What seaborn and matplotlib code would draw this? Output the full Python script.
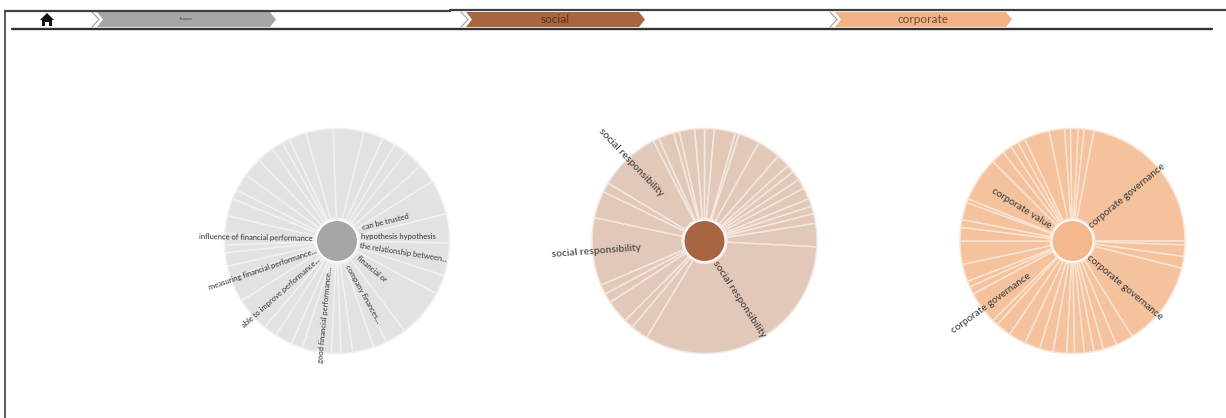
import matplotlib
matplotlib.use('Agg')
import matplotlib.pyplot as plt
import seaborn as sns

sns.set_theme(style='white')
plt.rcParams['font.family'] = ['Lato', 'DejaVu Sans']

W, H = 1226, 418

# Slice sizes, clockwise (degrees)
finance_sizes = [16, 10, 7, 7, 10, 10, 18, 15, 9, 8, 10, 25, 11, 7, 11, 6, 5, 7, 8, 6,
                 9, 7, 8, 10, 13, 6, 7, 4, 6, 9, 9, 5, 9, 10, 9, 6, 4, 9, 14]
social_sizes = [5, 11, 2, 11, 12, 7, 4, 5, 5, 6, 4, 4, 5, 12, 118, 9, 5, 12, 5, 5,
                35, 14, 5, 32, 3, 8, 3, 8, 5]
corporate_sizes = [79, 2, 6, 6, 44, 9, 7, 5, 5, 5, 4, 7, 7, 8, 9, 8, 3, 17, 4, 3, 9,
                   12, 7, 4, 9, 2, 23, 7, 5, 4, 4, 13, 8, 3, 4, 3, 5]

crumb_labels = ['finance', 'social', 'corporate']

finance_labels = ['influence of financial performance', 'can be trusted', 'hypothesis hypothesis',
                  'the relationship between...', 'financial or', 'company finances...',
                  'good financial performance...', 'able to improve performance...',
                  'measuring financial performance...']
social_labels = ['social responsibility', 'social responsibility', 'social responsibility']
corporate_labels = ['corporate governance', 'corporate value', 'corporate governance', 'corporate governance']

fig = plt.figure(figsize=(W / 100, H / 100), dpi=100)
ax = fig.add_axes([0, 0, 1, 1])


def sunburst(cx, cy, sizes, start, outer, edge, inner):
    ax.pie(sizes, center=(cx, H - cy), radius=112.5, startangle=start, counterclock=False,
           colors=[outer], wedgeprops=dict(width=90, edgecolor=edge, linewidth=1.1))
    ax.pie([1], center=(cx, H - cy), radius=20, colors=[inner], wedgeprops=dict(linewidth=0))


sunburst(337, 241, finance_sizes, 92, '#e2e2e2', '#f1f1f1', '#a6a6a6')
sunburst(704.5, 241, social_sizes, 90, '#e2c8b8', '#f3e8e1', '#a9653f')
sunburst(1072.5, 241, corporate_sizes, 79, '#f5c29e', '#fbe3d1', '#f4b78e')

ax.set_xlim(0, W)
ax.set_ylim(0, H)
ax.set_axis_off()


def label(x, y, s, rot, ha='left', size=7.5):
    ax.text(x, H - y, s, rotation=rot, rotation_mode='anchor', ha=ha, va='center',
            fontsize=size, color='#404040', fontweight='medium')


# Finance labels
small = 5.5
label(313, 238.5, finance_labels[0], -1, 'right', small)
label(362, 228, finance_labels[1], 14, 'left', small)
label(361, 236, finance_labels[2], 0, 'left', small)
label(360, 246, finance_labels[3], -9, 'left', small)
label(358, 257, finance_labels[4], -40, 'left', small)
label(347, 265, finance_labels[5], -61, 'left', small)
label(330, 267, finance_labels[6], 84.5, 'right', small)
label(319, 259, finance_labels[7], 41.5, 'right', small)
label(317, 251, finance_labels[8], 19, 'right', small)

# Social labels
label(600, 130, social_labels[0], -46.6)
label(552, 255, social_labels[1], 4.3)
label(715, 262, social_labels[2], -57)

# Corporate labels
big = 7.1
label(1090, 227, corporate_labels[0], 39.7, 'left', big)
label(992, 190, corporate_labels[1], -32, 'left', big)
label(1088, 257, corporate_labels[2], -40, 'left', big)
label(1030, 275, corporate_labels[3], 36, 'right', big)


# Breadcrumb bar
def crumb(x0, x1, color, text, tcolor, size):
    ax.fill([x0, x1 - 6, x1, x1 - 6, x0, x0 + 6], [H - 12, H - 12, H - 19.5, H - 27, H - 27, H - 19.5],
            color=color, lw=0, zorder=3)
    ax.plot([x0 - 5, x0 + 2, x0 - 5], [H - 12, H - 19.5, H - 27], color='#a0a0a0', lw=0.8, zorder=3)
    ax.text((x0 + x1) / 2, H - 19.5, text, ha='center', va='center', color=tcolor, fontsize=size, zorder=4)


crumb(97, 276, '#a6a6a6', crumb_labels[0], '#404040', 3)
crumb(466, 645, '#a9653f', crumb_labels[1], '#5a3320', 8.5)
crumb(835, 1012, '#f4b387', crumb_labels[2], '#6a4a36', 8.5)

ax.plot([5, 450, 450, W], [H - 11, H - 11, H - 10, H - 10], color='#404040', lw=1.6, zorder=5)
ax.plot([5, 5], [H - 11, 0], color='#404040', lw=1.2, zorder=5)
ax.plot([12, 1212], [H - 28.5, H - 28.5], color='#333333', lw=1.7, zorder=5)

# Home icon
ax.fill([47, 54, 52, 52, 49, 49, 45, 45, 42, 42, 40], [H - 13, H - 20, H - 20, H - 26, H - 26, H - 22,
        H - 22, H - 26, H - 26, H - 20, H - 20], color='#111111', lw=0, zorder=6)

fig.savefig('out.png', dpi=100)
